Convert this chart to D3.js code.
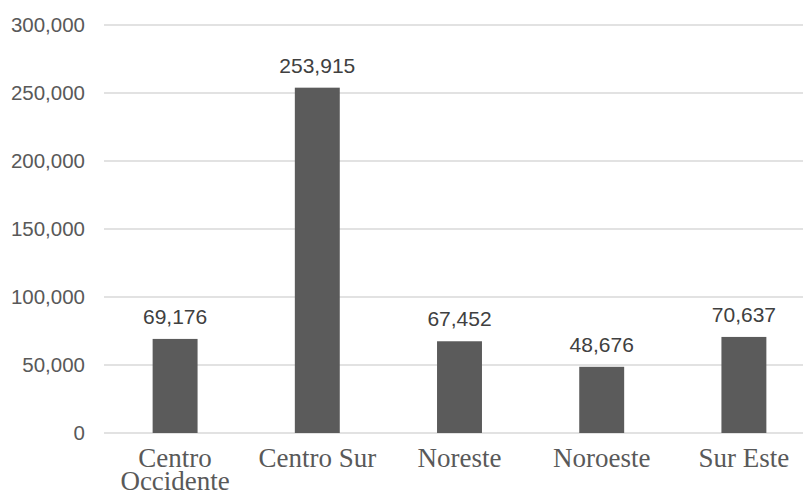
<!DOCTYPE html>
<html><head><meta charset="utf-8">
<script src="https://cdn.jsdelivr.net/npm/d3@7"></script>
<style>body{margin:0;background:#fff}</style>
</head><body>
<svg id="chart" width="803" height="498"></svg>
<script>
const categories = [["Centro","Occidente"],["Centro Sur"],["Noreste"],["Noroeste"],["Sur Este"]];
const values = [69176, 253915, 67452, 48676, 70637];
const tickValues = [0, 50000, 100000, 150000, 200000, 250000, 300000];

const svg = d3.select("#chart");
const mLeft = 104, mRight = 815, mTop = 25, mBottom = 433;
const keys = categories.map(c => c.join(" "));
const x = d3.scaleBand().domain(keys).range([mLeft, mRight]).paddingInner(0.684).paddingOuter(0.342);
const y = d3.scaleLinear().domain([0, 300000]).range([mBottom, mTop]);
const fmt = d3.format(",");

// gridlines
svg.append("g").selectAll("line").data(tickValues).join("line")
  .attr("x1", mLeft).attr("x2", mRight)
  .attr("y1", d => y(d)).attr("y2", d => y(d))
  .attr("stroke", "#d9d9d9").attr("stroke-width", 1.5);

// y axis labels
const yAxis = svg.append("g").attr("transform", `translate(${mLeft},0)`)
  .call(d3.axisLeft(y).tickValues(tickValues).tickFormat(fmt).tickSize(0).tickPadding(19));
yAxis.select(".domain").remove();
yAxis.selectAll("text").attr("fill", "#595959")
  .style("font-family", "'Liberation Sans', Arial, sans-serif").style("font-size", "20.5px");

// bars
svg.append("g").selectAll("rect").data(values).join("rect")
  .attr("x", (d, i) => x(keys[i])).attr("width", x.bandwidth())
  .attr("y", d => y(d)).attr("height", d => y(0) - y(d))
  .attr("fill", "#5b5b5b");

// value labels
svg.append("g").selectAll("text").data(values).join("text")
  .attr("x", (d, i) => x(keys[i]) + x.bandwidth() / 2)
  .attr("y", d => y(d) - 15)
  .attr("text-anchor", "middle").attr("fill", "#404040")
  .style("font-family", "'Liberation Sans', Arial, sans-serif").style("font-size", "21px")
  .text(d => fmt(d));

// x axis category labels
const xAxis = svg.append("g").attr("transform", `translate(0,${mBottom})`)
  .call(d3.axisBottom(x).tickSize(0).tickFormat(""));
xAxis.select(".domain").remove();
xAxis.selectAll(".tick").each(function(d, i) {
  const t = d3.select(this).append("text")
    .attr("text-anchor", "middle").attr("fill", "#595959")
    .style("font-family", "'Liberation Serif', 'Times New Roman', serif").style("font-size", "27px");
  categories[i].forEach((line, j) => {
    t.append("tspan").attr("x", 0).attr("y", 34 + j * 23).text(line);
  });
});
</script>
</body></html>
